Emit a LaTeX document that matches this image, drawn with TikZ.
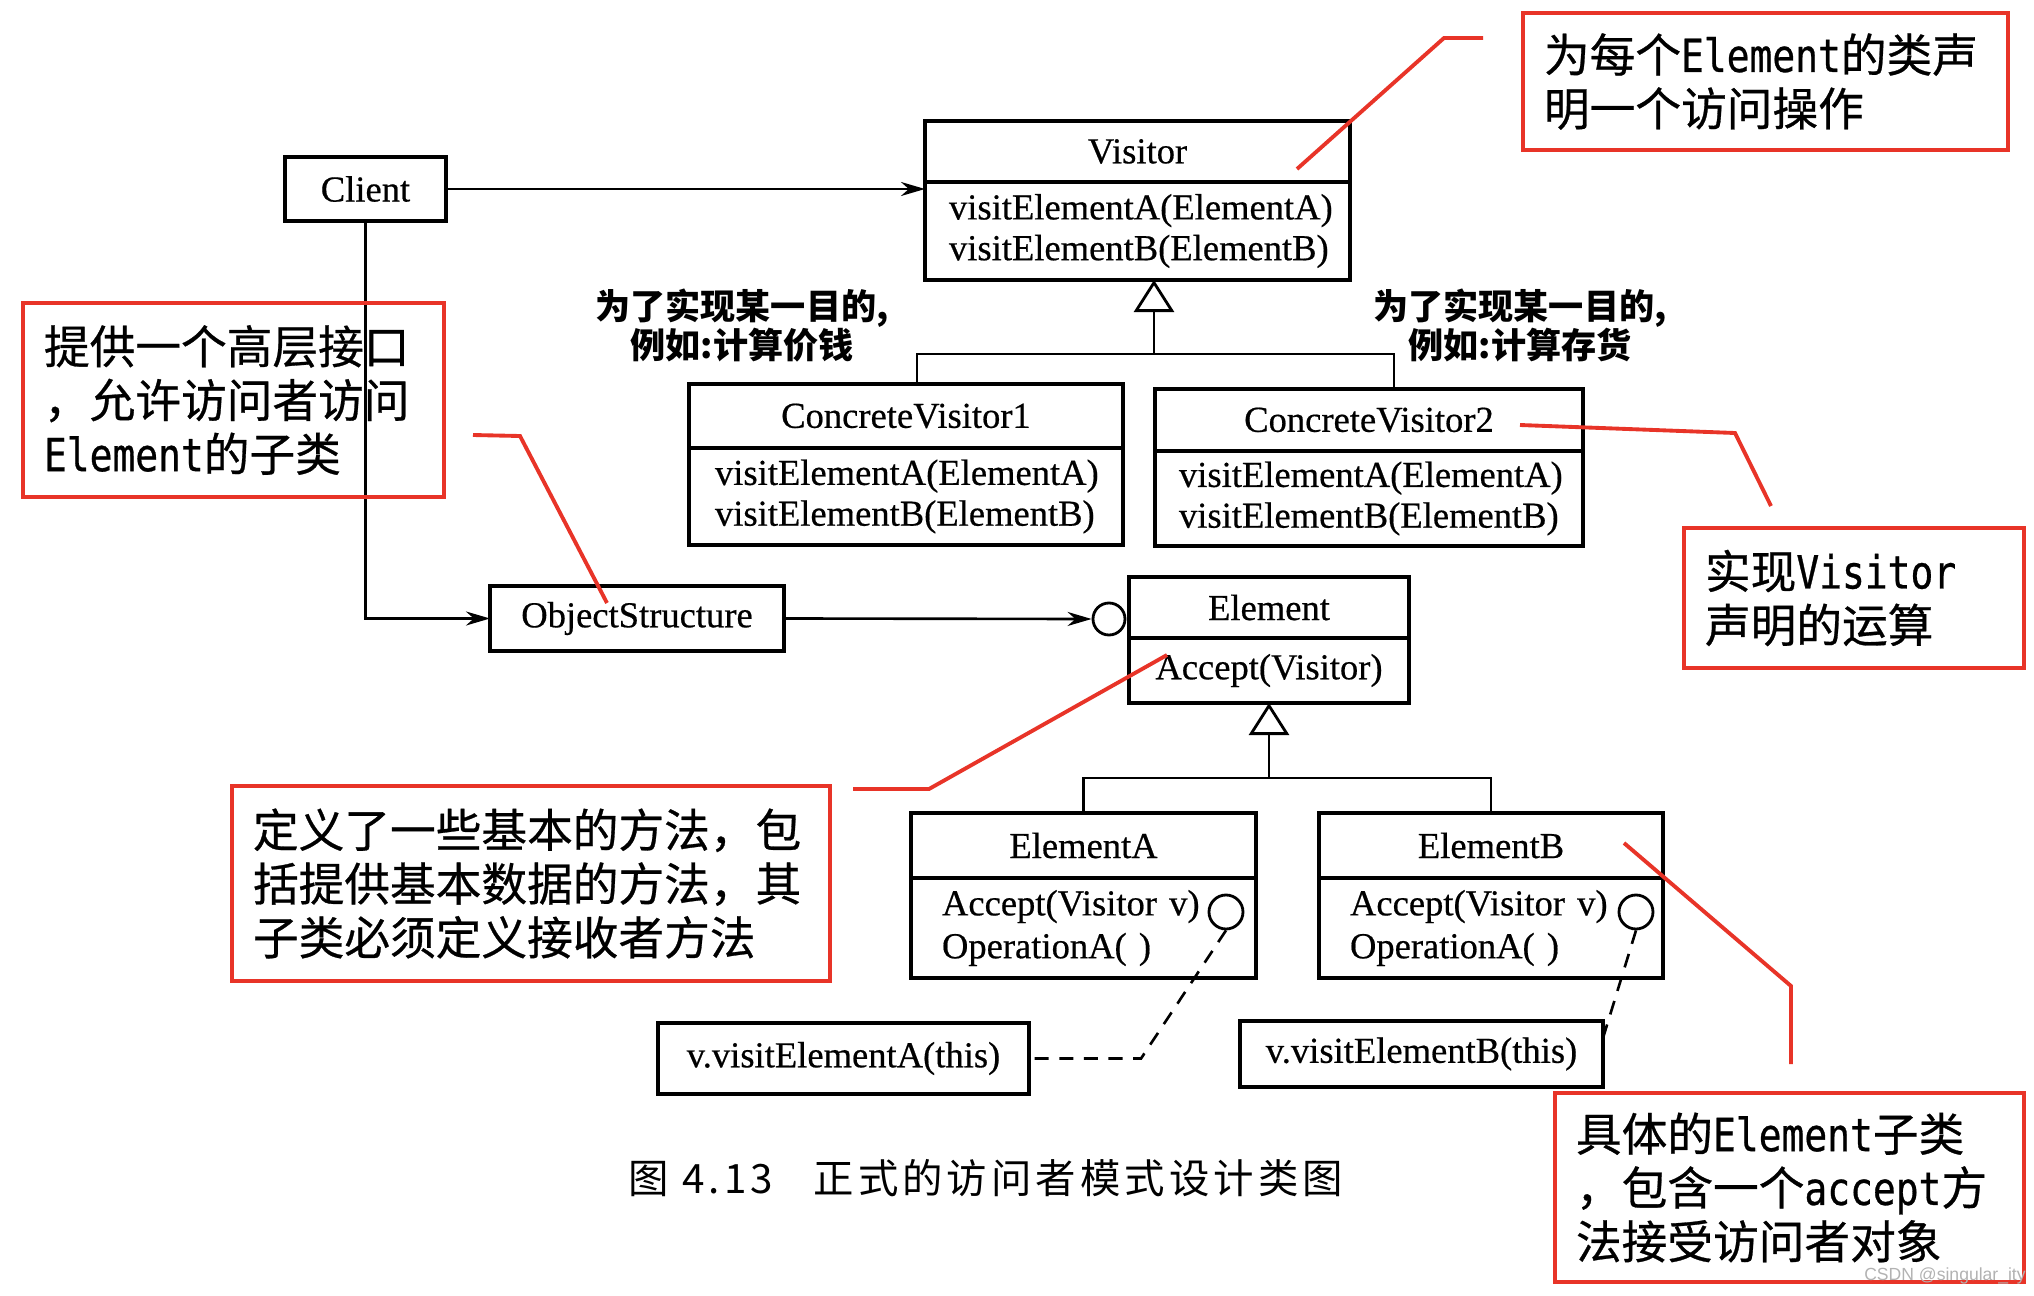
\documentclass[tikz,border=0pt]{standalone}
\usepackage{fontspec}
\usetikzlibrary{positioning,arrows.meta}
\newfontfamily\umlfont[FakeBold=0.5]{Liberation Serif}
\newfontfamily\cjkfont[FakeBold=0.6]{Noto Sans CJK SC}
\newfontfamily\hintfont{Noto Sans CJK SC}
\newfontfamily\capfont[LetterSpace=10]{Noto Sans CJK SC}
\newfontfamily\halffont[FakeStretch=0.83,FakeBold=0.6]{DejaVu Sans Mono}
\newfontfamily\markfont{Liberation Sans}
\newcommand{\lat}[1]{{\halffont #1}}
\definecolor{notered}{RGB}{232,52,40}

\begin{document}
\begin{tikzpicture}[
    y=-1cm,
    umlhead/.style={draw,line width=1.4pt,outer sep=0pt,inner sep=0pt,font=\umlfont\fontsize{10.4}{12}\selectfont},
    umlbody/.style={draw,line width=1.4pt,outer sep=0pt,inner ysep=0pt,align=left,font=\umlfont\fontsize{10.4}{11.6}\selectfont},
    port/.style={draw,circle,line width=0.8pt,inner sep=0pt,fill=white},
    note/.style={draw=notered,line width=1.3pt,outer sep=0pt,inner xsep=0.21cm,align=left,font=\cjkfont\fontsize{13}{15.3}\selectfont},
    hint/.style={font=\hintfont\bfseries\fontsize{10}{11.2}\selectfont,align=center},
    lead/.style={notered,line width=1.1pt},
    link/.style={line width=0.75pt},
    inherit/.style={line width=0.75pt,-{Triangle[open,length=0.32cm,width=0.4cm,line width=0.8pt]}},
    >={Stealth[length=0.24cm,width=0.14cm]}
]
\useasboundingbox (0,0) rectangle (20.34,12.96);

\node[umlhead,minimum width=1.61cm,minimum height=0.64cm] (client) at (3.655,1.89) {Client};

\node[umlhead,minimum width=4.25cm,minimum height=0.61cm] (visitor) at (11.375,1.515) {Visitor};
\node[umlbody,below=0pt of visitor,inner xsep=0.24cm,text width=3.77cm,minimum height=0.98cm] (visitorops) {visitElementA(ElementA)\\visitElementB(ElementB)};

\node[umlhead,minimum width=4.34cm,minimum height=0.64cm] (cvone) at (9.06,4.16) {ConcreteVisitor1};
\node[umlbody,below=0pt of cvone,inner xsep=0.26cm,text width=3.82cm,minimum height=0.97cm] (cvoneops) {visitElementA(ElementA)\\visitElementB(ElementB)};
\node[umlhead,minimum width=4.28cm,minimum height=0.62cm] (cvtwo) at (13.69,4.20) {ConcreteVisitor2};
\node[umlbody,below=0pt of cvtwo,inner xsep=0.24cm,text width=3.80cm,minimum height=0.95cm] (cvtwoops) {visitElementA(ElementA)\\visitElementB(ElementB)};

\node[hint] (hintprice) at (7.42,3.255) {为了实现某一目的,\\例如:计算价钱};
\node[hint] (hintstock) at (15.20,3.255) {为了实现某一目的,\\例如:计算存货};

\node[umlhead,minimum width=2.94cm,minimum height=0.65cm] (objstruct) at (6.37,6.185) {ObjectStructure};

\node[umlhead,minimum width=2.80cm,minimum height=0.61cm] (element) at (12.69,6.075) {Element};
\node[umlbody,below=0pt of element,inner xsep=0.2cm,text width=2.4cm,minimum height=0.65cm,align=center] (elementops) {Accept(Visitor)};
\node[port,minimum size=0.32cm] (eport) at (11.09,6.19) {};

\node[umlhead,minimum width=3.45cm,minimum height=0.65cm] (elema) at (10.835,8.455) {ElementA};
\node[umlbody,below=0pt of elema,inner xsep=0.31cm,text width=2.83cm,minimum height=1.0cm,font=\umlfont\fontsize{10.4}{12.2}\selectfont] (elemaops) {Accept(Visitor v)\\OperationA( )};
\node[umlhead,minimum width=3.44cm,minimum height=0.65cm] (elemb) at (14.91,8.455) {ElementB};
\node[umlbody,below=0pt of elemb,inner xsep=0.31cm,text width=2.82cm,minimum height=1.0cm,font=\umlfont\fontsize{10.4}{12.2}\selectfont] (elembops) {Accept(Visitor v)\\OperationA( )};
\node[port,minimum size=0.34cm] (aport) at (12.26,9.12) {};
\node[port,minimum size=0.34cm] (bport) at (16.36,9.12) {};

\node[umlhead,minimum width=3.71cm,minimum height=0.71cm] (calla) at (8.435,10.585) {v.visitElementA(this)};
\node[umlhead,minimum width=3.63cm,minimum height=0.66cm] (callb) at (14.215,10.54) {v.visitElementB(this)};

\coordinate (vjoin) at (11.54,3.54);
\coordinate (ejoin) at (12.69,7.78);
\coordinate (abend) at (11.41,10.585);

\draw[link,->] (client.east) -- (client.east -| visitorops.west);
\draw[link,->] (client.south) |- (objstruct.west);
\draw[link,->] (objstruct.east) -- (eport.west);
\draw[link] ([xshift=0.11cm]cvone.north) |- (vjoin) -| ([xshift=0.25cm]cvtwo.north);
\draw[inherit] (vjoin) -- (vjoin |- visitorops.south);
\draw[link] (elema.north) |- (ejoin) -| (elemb.north);
\draw[inherit] (ejoin) -- (elementops.south);
\draw[link,dash pattern=on 4pt off 3pt] (aport.south) -- (abend) -- (calla.east);
\draw[link,dash pattern=on 4pt off 3pt] (bport.south) -- ([yshift=0.16cm]callb.east);

\node[note,text width=4.43cm,minimum height=1.37cm] (notevisitor) at (17.655,0.815) {为每个\lat{Element}的类声\\明一个访问操作};
\node[note,text width=3.79cm,minimum height=1.94cm] (noteobject) at (2.335,4.0) {提供一个高层接口\\，允许访问者访问\\\lat{Element}的子类};
\node[note,text width=2.98cm,minimum height=1.40cm] (noteconcrete) at (18.54,5.98) {实现\lat{Visitor}\\声明的运算};
\node[note,text width=5.56cm,minimum height=1.95cm] (noteelement) at (5.31,8.835) {定义了一些基本的方法，包\\括提供基本数据的方法，其\\子类必须定义接收者方法};
\node[note,text width=4.27cm,minimum height=1.89cm] (notesub) at (17.895,11.875) {具体的\lat{Element}子类\\，包含一个\lat{accept}方\\法接受访问者对象};

\coordinate (ltopa) at (12.97,1.69);
\coordinate (ltopb) at (14.44,0.38);
\coordinate (ltopc) at (14.83,0.38);
\coordinate (llefta) at (4.73,4.35);
\coordinate (lleftb) at (5.20,4.36);
\coordinate (lleftc) at (6.07,6.03);
\coordinate (lrighta) at (15.20,4.25);
\coordinate (lrightb) at (17.35,4.33);
\coordinate (lrightc) at (17.71,5.06);
\coordinate (lmida) at (8.53,7.89);
\coordinate (lmidb) at (9.29,7.89);
\coordinate (lmidc) at (11.67,6.55);
\coordinate (lbota) at (16.24,8.43);
\coordinate (lbotb) at (17.91,9.86);
\coordinate (lbotc) at (17.91,10.64);
\draw[lead] (ltopa) -- (ltopb) -- (ltopc);
\draw[lead] (llefta) -- (lleftb) -- (lleftc);
\draw[lead] (lrighta) -- (lrightb) -- (lrightc);
\draw[lead] (lmida) -- (lmidb) -- (lmidc);
\draw[lead] (lbota) -- (lbotb) -- (lbotc);

\node[font=\capfont\fontsize{11.5}{13}\selectfont] (caption) at (9.86,11.78) {图 4.13\quad 正式的访问者模式设计类图};
\node[font=\markfont\fontsize{5}{6}\selectfont,text=gray!60] (mark) at (19.45,12.76) {CSDN @singular\_ity};
\end{tikzpicture}
\end{document}
